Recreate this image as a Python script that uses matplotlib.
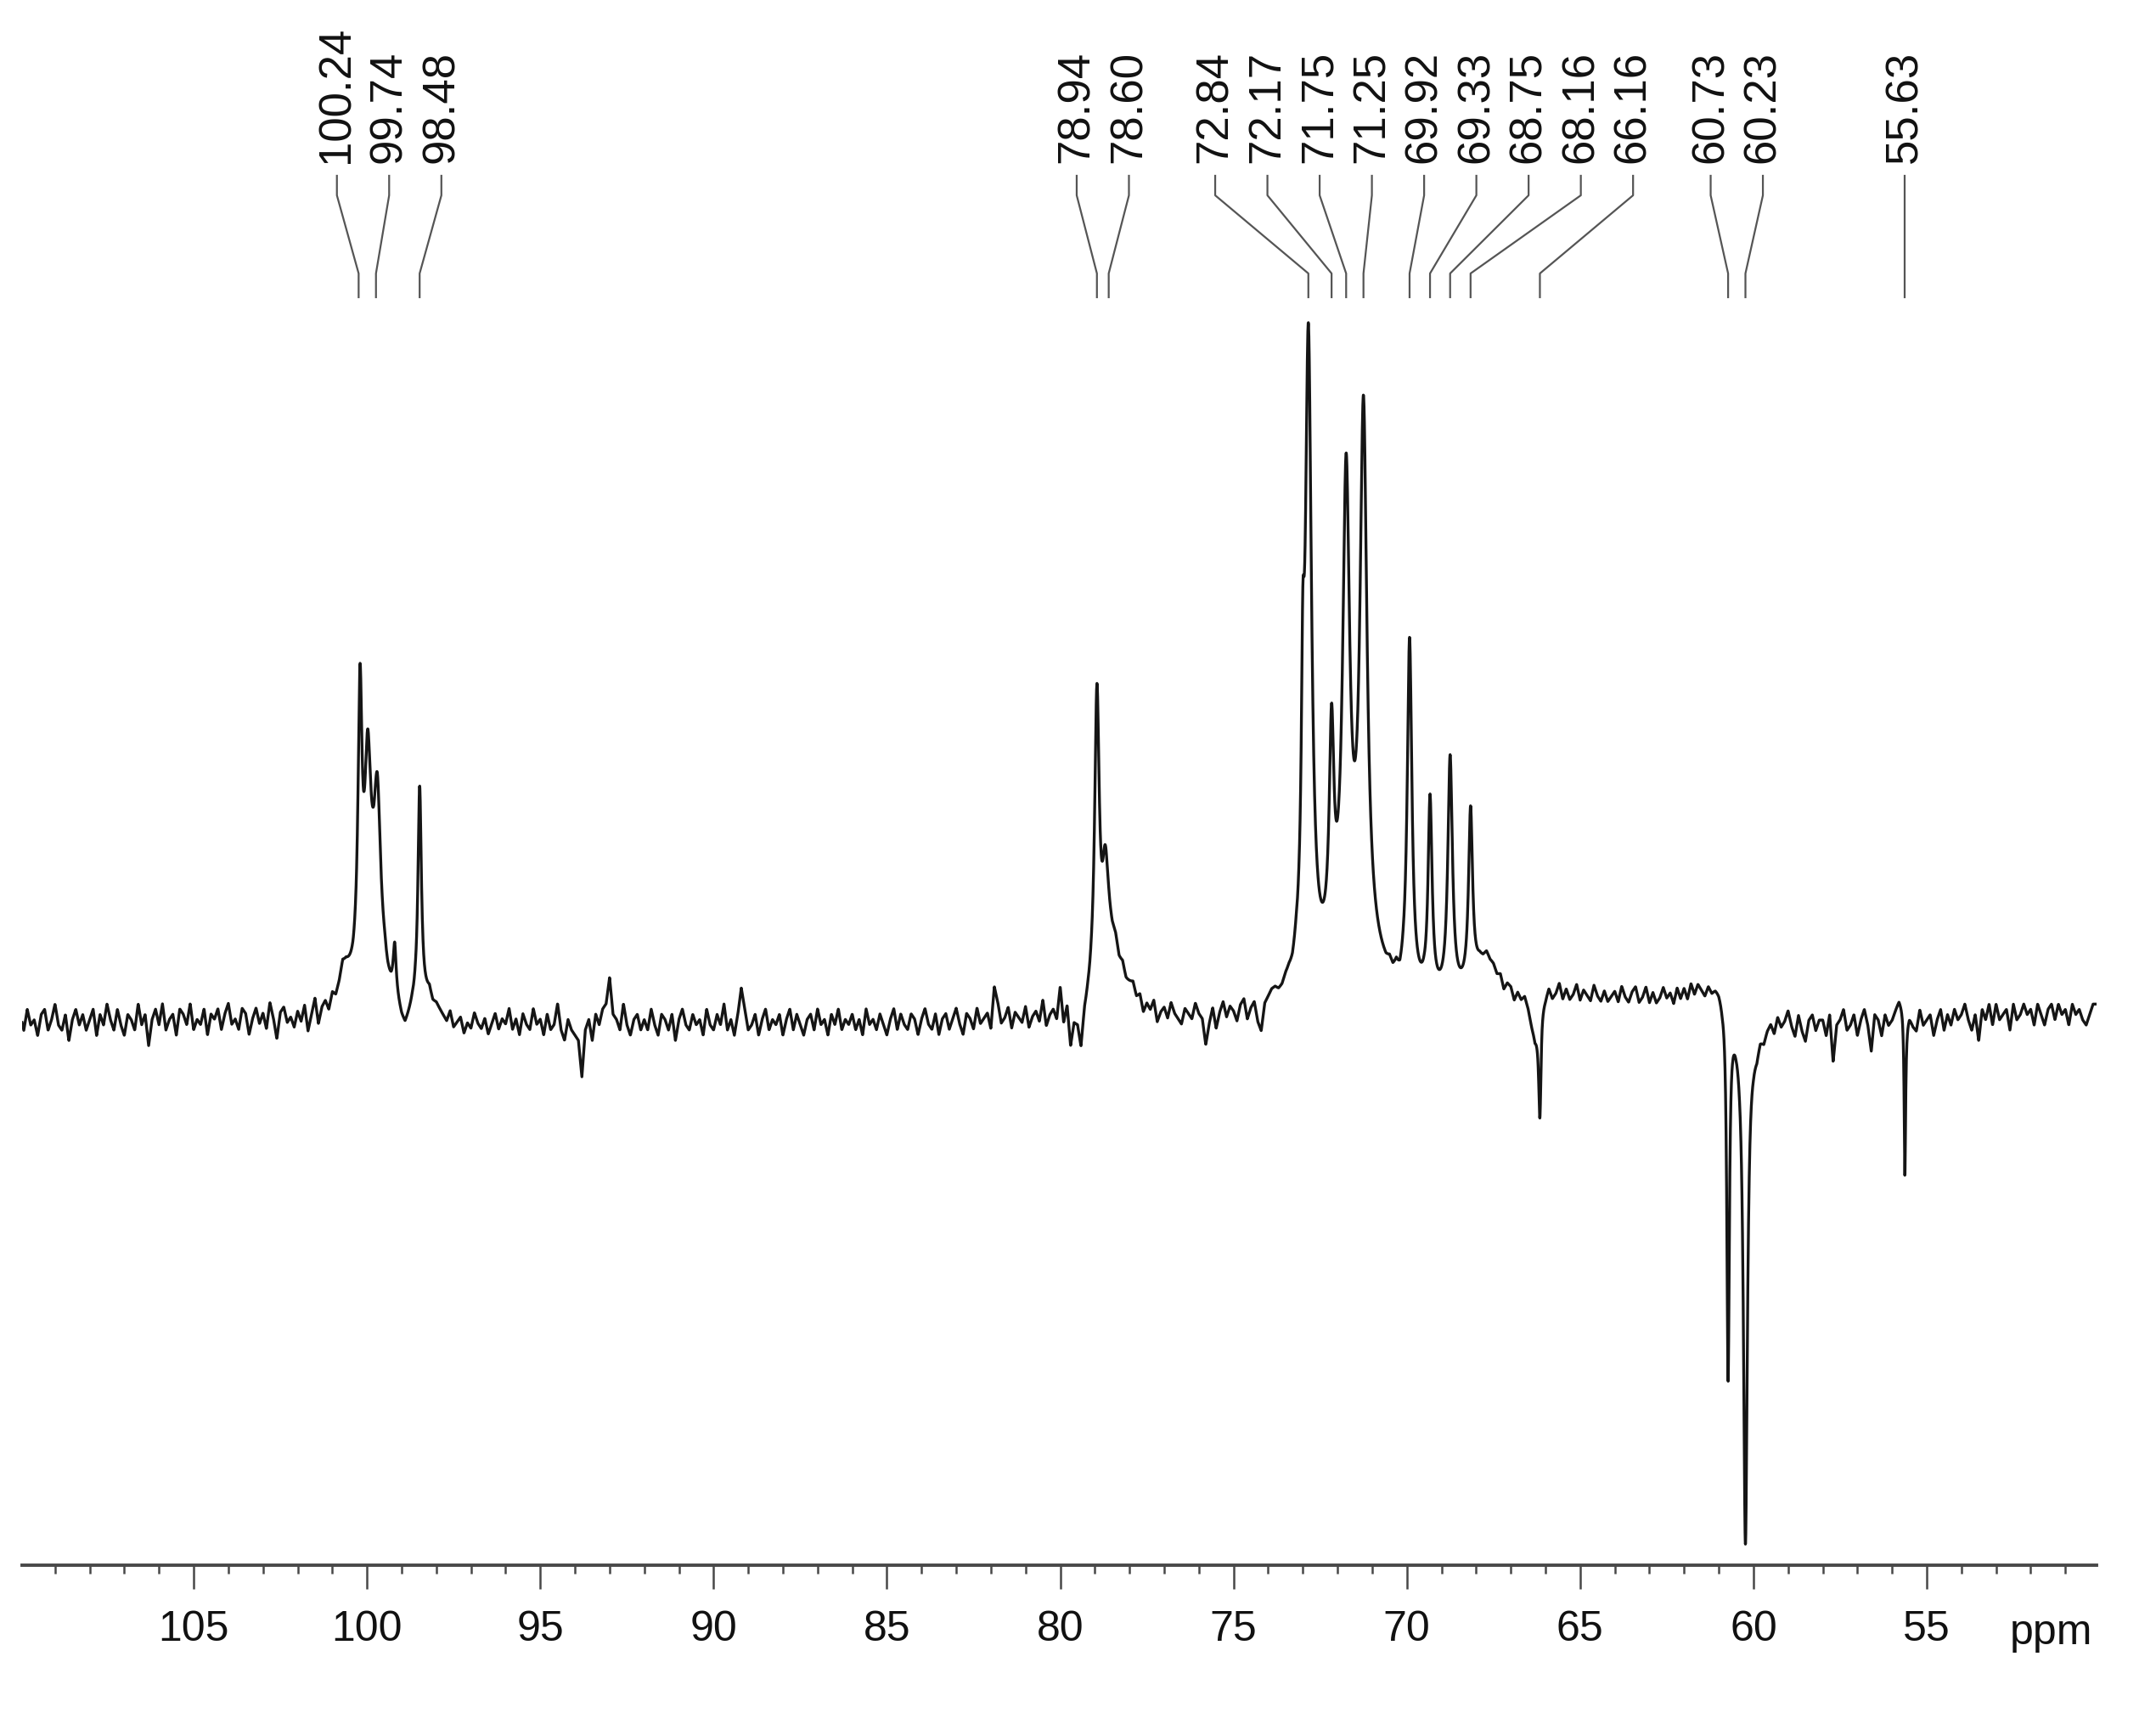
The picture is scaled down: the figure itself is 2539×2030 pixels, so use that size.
import numpy as np
import matplotlib
matplotlib.use('Agg')
import matplotlib.pyplot as plt
from matplotlib.ticker import MultipleLocator, FormatStrFormatter

FONT = ['Liberation Sans', 'DejaVu Sans']

# chemical shifts printed above the spectrum (ppm)
SHIFT_LABELS = ['100.24', '99.74', '98.48', '78.94', '78.60', '72.84', '72.17',
                '71.75', '71.25', '69.92', '69.33', '68.75', '68.16', '66.16',
                '60.73', '60.23', '55.63']

# lines: centre (ppm), height (tallest line ~ 100),
# half width at half height (ppm); negative heights point down (CH2 in DEPT)
PEAK_PPM = [100.20, 99.98, 99.70, 99.90, 99.20, 98.48,
            78.94, 78.70, 78.50,
            73.00, 72.84, 72.17, 71.75, 71.25, 71.50,
            69.92, 69.33, 68.75, 68.16, 67.70,
            66.16, 60.73, 60.23, 55.63]
PEAK_HEIGHT = [38, 23, 22, 12, 6, 32,
               42, 13, 10,
               28, 92, 30, 66, 76, 9,
               50, 28, 34, 25, 6,
               -14.5, -55, -74.5, -23]
PEAK_HWHM = [0.07, 0.10, 0.12, 0.35, 0.05, 0.06,
             0.08, 0.10, 0.35,
             0.05, 0.11, 0.08, 0.12, 0.12, 1.0,
             0.08, 0.07, 0.08, 0.07, 0.6,
             0.04, 0.045, 0.07, 0.025]

# baseline wiggle, one value every 0.1 ppm from 110.0 ppm down to 50.1 ppm
NOISE_START = 110.0
NOISE_STEP = 0.1
NOISE_UNIT = 0.75
BASELINE_NOISE = [
    1, -2, 2, -1, 0, -3, 1, 2, -2, 0, 3, -1, -2, 1, -4, 0, 2, -1, 1, -2,
    0, 2, -3, 1, -1, 3, 0, -2, 2, -1, -3, 1, 0, -2, 3, -1, 1, -5, 0, 2,
    -1, 3, -2, 0, 1, -3, 2, 1, -1, 3, -2, 0, -1, 2, -3, 1, 0, 2, -2, 1,
    3, -1, 0, -2, 2, 1, -3, 0, 2, -1, 1, -2, 3, 0, -4, 1, 2, -1, 0, -2,
    1, -1, 2, -3, 0, 3, -2, 1, 2, 0, 3, 2, 4, 7, 6, 4, 2, 1, 1, 0,
    0, 1, 0, 1, 0, 1, 0, 0, 1, -1, -3, -4, -2, 0, 1, 0, 2, 3, 4, 2,
    2, 1, 0, -1, 1, -2, -1, 0, -3, -1, -2, 1, -1, -2, 0, -3, -1, 1, -2, 0,
    -1, 2, -2, 0, -3, 1, -1, -2, 2, -1, 0, -3, 1, -2, -1, 3, -2, -4, 0, -2,
    -3, -4, -11, -2, 0, -4, 1, -1, 2, 3, 8, 1, 0, -2, 3, -1, -3, 0, 1, -2,
    0, -2, 2, -1, -3, 1, 0, -2, 1, -4, 0, 2, -1, -2, 1, -1, 0, -3, 2, -1,
    -2, 1, -1, 3, -2, 0, -3, 1, 6, 2, -2, -1, 1, -3, 0, 2, -2, 0, -1, 1,
    -3, 0, 2, -2, 1, -1, -3, 0, 1, -2, 2, -1, 0, -3, 1, -1, 2, -2, 0, -1,
    1, -2, 0, -3, 2, -1, 0, -2, 1, -1, -3, 0, 2, -2, 1, -1, -2, 1, 0, -3,
    0, 2, -1, -2, 1, -3, 0, 1, -2, 0, 2, -1, -3, 1, 0, -2, 2, -1, 0, 1,
    -2, 6, 3, -1, 0, 2, -2, 1, 0, -1, 2, -2, 0, 1, -1, 3, -2, 0, 1, -1,
    5, -2, 1, -7, -3, -4, -9, -3, -1, 0, 0, 0, 0, 0, 1, 0, 1, 0, 2, 1,
    2, 3, 1, 2, -1, 1, 0, 2, -2, 0, 1, -1, 2, 0, -1, -2, 1, 0, -1, 2,
    0, -1, -6, -2, 1, -3, 0, 2, -1, 1, 0, -2, 1, 2, -2, 0, 1, -3, -5, 0,
    1, 2, 2, 1, 1, 2, 2, 1, 2, 1, 0, 0, 0, 0, 0, 0, 0, 0, 0, 0,
    0, 0, 0, 0, 0, 0, 0, 0, 0, 0, 0, 0, 0, 0, 0, 1, 0, 1, -1, 0,
    0, 0, 0, 0, 0, 0, -1, 0, 0, 0, 0, 0, 0, 0, 0, 0, 0, 0, 0, 0,
    1, 2, 2, 3, 2, 2, 1, 2, 0, 2, 2, 0, 2, 1, 2, 0, -3, -5, -3, 2,
    3, 5, 3, 4, 6, 3, 5, 3, 4, 6, 3, 5, 4, 3, 6, 4, 3, 5, 3, 4,
    5, 3, 6, 4, 3, 5, 6, 3, 4, 6, 3, 5, 3, 4, 6, 4, 5, 3, 6, 4,
    6, 4, 7, 5, 7, 6, 5, 7, 6, 7, 7, 6, 7, 6, 3, 1, 0, 0, 0, -1,
    -3, -4, -2, -3, -1, 0, -2, 1, -1, 0, 2, -1, -3, 1, -2, -4, 0, 1, -2, 0,
    0, -3, 1, -8, -1, 0, 2, -2, -1, 1, -3, 0, 2, -1, -6, 1, 0, -3, 1, -1,
    0, 2, 4, 3, 0, 1, -1, -2, 2, -1, 0, 1, -3, 0, 2, -2, 1, -1, 2, 0,
    1, 3, 0, -2, 1, -4, 2, 0, 3, -1, 3, 0, 1, 2, -2, 3, 0, 1, 3, 1,
    2, -1, 3, 1, -1, 2, 3, 0, 3, 1, 2, -1, 3, 1, 2, 0, -1, 1, 3, 3,
]

XMAX = 109.95
XMIN = 50.1
LABEL_GAP = 1.507  # ppm between neighbouring labels


def build_spectrum(ppm):
    # polyline through the baseline values plus a Lorentzian for every line
    noise_ppm = NOISE_START - NOISE_STEP * np.arange(len(BASELINE_NOISE))
    noise = np.array(BASELINE_NOISE, dtype=float) * NOISE_UNIT
    spec = np.interp(ppm, noise_ppm[::-1], noise[::-1])
    for x0, h, w in zip(PEAK_PPM, PEAK_HEIGHT, PEAK_HWHM):
        spec += h * w ** 2 / ((ppm - x0) ** 2 + w ** 2)
    return spec


def spread_labels(shifts, gap):
    # merge neighbouring labels that would overlap and centre each group
    # over the middle of its lines
    groups = [[s] for s in shifts]
    merged = True
    while merged:
        merged = False
        pos = [place_group(g, gap) for g in groups]
        for i in range(len(groups) - 1):
            if pos[i][-1] - pos[i + 1][0] < gap:
                groups[i] = groups[i] + groups.pop(i + 1)
                merged = True
                break
    out = []
    for g in groups:
        out.extend(place_group(g, gap))
    return out


def place_group(group, gap):
    centre = (group[0] + group[-1]) / 2.0
    n = len(group)
    return [centre + gap * ((n - 1) / 2.0 - i) for i in range(n)]


plt.rcParams['font.family'] = FONT

fig = plt.figure(figsize=(25.39, 20.30), dpi=100)
ax = fig.add_axes([26 / 2539, 187 / 2030, 2443 / 2539, 1843 / 2030])

ppm = np.linspace(XMAX, XMIN, 12000)
ax.plot(ppm, build_spectrum(ppm), color='#151515', lw=2.4)

ax.set_xlim(XMAX, XMIN)
ax.set_ylim(-77.8, 145.6)

for side in ['top', 'left', 'right']:
    ax.spines[side].set_visible(False)
ax.spines['bottom'].set_color('#484848')
ax.spines['bottom'].set_linewidth(2.8)
ax.set_yticks([])

ax.xaxis.set_major_locator(MultipleLocator(5))
ax.xaxis.set_minor_locator(MultipleLocator(1))
ax.xaxis.set_major_formatter(FormatStrFormatter('%d'))
ax.tick_params(axis='x', which='major', direction='out', length=20, width=1.8,
               color='#484848', pad=18, labelsize=36, labelcolor='#111111')
ax.tick_params(axis='x', which='minor', direction='out', length=7, width=1.8,
               color='#484848')

trans = ax.get_xaxis_transform()
ax.text(51.4, -0.0505, 'ppm', transform=trans, ha='center', va='baseline',
        fontsize=36, color='#111111')

# peak labels with their leader lines
shifts = [float(s) for s in SHIFT_LABELS]
label_x = spread_labels(shifts, LABEL_GAP)
for lab, peak, x in zip(SHIFT_LABELS, shifts, label_x):
    ax.text(x, 0.8958, lab, transform=trans, rotation=90, ha='center',
            va='bottom', fontsize=38, color='#111111')
    ax.plot([x, x, peak, peak], [0.8877, 0.8752, 0.8253, 0.8101],
            transform=trans, color='#555555', lw=1.6, clip_on=False)

fig.savefig('out.png', dpi=100)
